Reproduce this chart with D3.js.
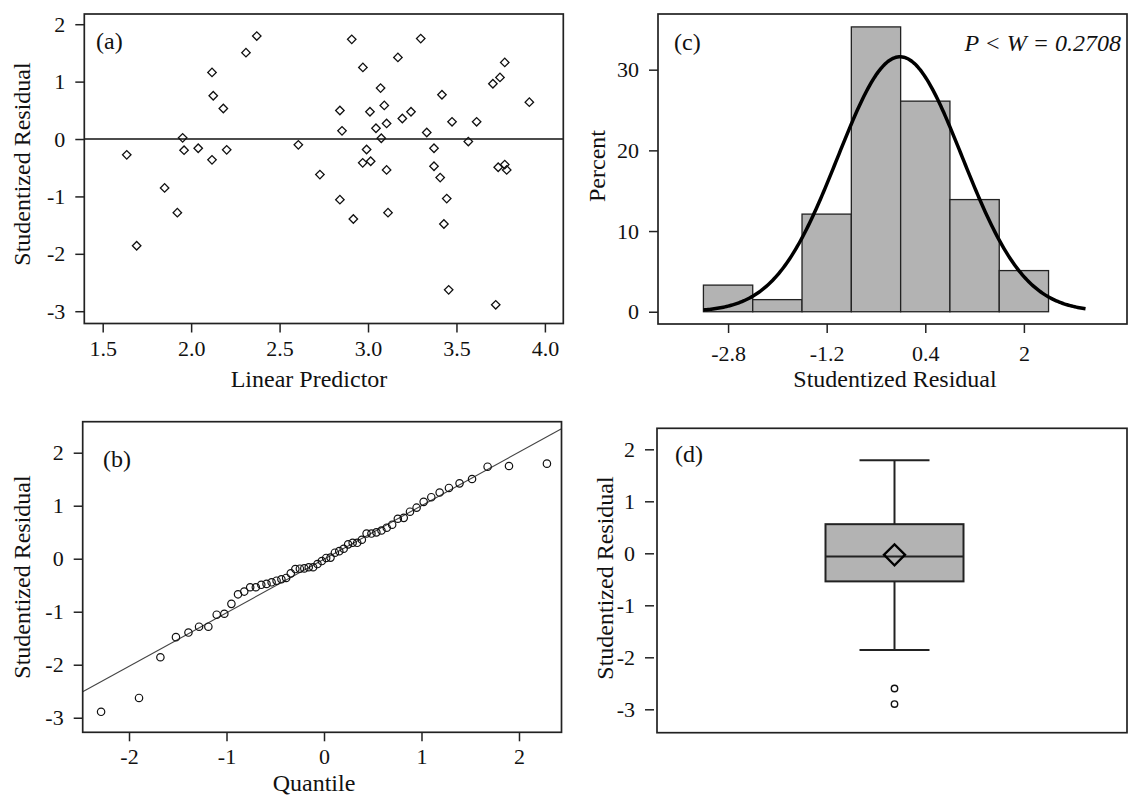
<!DOCTYPE html>
<html>
<head>
<meta charset="utf-8">
<script src="https://cdn.jsdelivr.net/npm/d3@7"></script>
<style>
body { margin: 0; background: #fff; }
text { font-family: "Liberation Serif", "Times New Roman", serif; fill: #111; }
</style>
</head>
<body>
<script>
var predictor = [1.636, 1.692, 1.850, 1.922, 1.952, 1.960, 2.040, 2.118, 2.125, 2.118, 2.182, 2.201, 2.310, 2.371,
	2.606, 2.728, 2.841, 2.853, 2.841, 2.917, 2.908, 2.971, 3.071, 3.011, 3.092, 3.045, 3.105, 3.075,
	3.169, 3.194, 3.243, 3.298, 3.332, 3.418, 3.475, 3.614, 3.567, 2.992, 2.970, 3.015, 3.105, 3.373,
	3.373, 3.408, 3.445, 3.113, 3.429, 3.456, 3.722, 3.773, 3.746, 3.706, 3.912, 3.736, 3.773, 3.784];
var residual = [-0.276, -1.859, -0.852, -1.283, 0.021, -0.195, -0.161, 1.161, 0.754, -0.363, 0.532, -0.188, 1.504, 1.794,
	-0.101, -0.620, 0.497, 0.143, -1.056, -1.393, 1.736, 1.248, 0.887, 0.475, 0.585, 0.188, 0.271, 0.014,
	1.422, 0.358, 0.475, 1.749, 0.113, 0.771, 0.300, 0.300, -0.044, -0.183, -0.415, -0.387, -0.538, -0.161,
	-0.475, -0.672, -1.038, -1.283, -1.480, -2.627, -2.888, 1.335, 1.073, 0.963, 0.642, -0.492, -0.445, -0.538];

// histogram (c)
var histMid = [-2.8, -2.0, -1.2, -0.4, 0.4, 1.2, 2.0];
var histPct = [3.3, 1.5, 12.1, 35.3, 26.1, 13.9, 5.1];
var binWidth = 0.8;
var fitMean = -0.01, fitSd = 1.01;
var curveFrom = -3.2, curveTo = 3.0;

// box plot (d): q1, median, q3, mean, low whisker, high whisker
var boxStats = [-0.54, -0.06, 0.56, -0.03, -1.86, 1.79];
var boxOutliers = [-2.60, -2.90];

var ticksA_x = [1.5, 2.0, 2.5, 3.0, 3.5, 4.0];
var ticksResid = [-3, -2, -1, 0, 1, 2];
var ticksB_x = [-2, -1, 0, 1, 2];
var ticksC_x = [-2.8, -1.2, 0.4, 2];
var ticksC_y = [0, 10, 20, 30];

var svg = d3.select("body").append("svg")
	.attr("width", 1130).attr("height", 797);

function hyph(f) {
	return function (d) { var s = f ? d3.format(f)(Math.abs(d)) : String(Math.abs(d)); return d < 0 ? "-" + s : s; };
}

function frame(x0, y0, x1, y1) {
	svg.append("rect")
		.attr("x", x0).attr("y", y0).attr("width", x1 - x0).attr("height", y1 - y0)
		.attr("fill", "none").attr("stroke", "#222").attr("stroke-width", 1.7);
}

function styleAxis(g) {
	g.select(".domain").remove();
	g.selectAll("line").attr("stroke", "#222").attr("stroke-width", 1.5);
	g.selectAll("text").style("font-size", "22px").attr("fill", "#111")
		.style("font-family", '"Liberation Serif", "Times New Roman", serif');
}

function leftAxis(scale, x, vals, fmt) {
	svg.append("g").attr("transform", "translate(" + x + ",0)")
		.call(d3.axisLeft(scale).tickValues(vals).tickSize(9).tickPadding(10).tickFormat(fmt))
		.call(styleAxis);
}

function bottomAxis(scale, y, vals, fmt, pad) {
	svg.append("g").attr("transform", "translate(0," + y + ")")
		.call(d3.axisBottom(scale).tickValues(vals).tickSize(9).tickPadding(pad).tickFormat(fmt))
		.call(styleAxis);
}

function label(txt, x, y, opt) {
	opt = opt || {};
	var t = svg.append("text").attr("x", x).attr("y", y).text(txt)
		.style("font-size", (opt.size || 24) + "px")
		.attr("text-anchor", opt.anchor || "start");
	if (opt.rotate) t.attr("transform", "rotate(-90," + x + "," + y + ")").attr("dominant-baseline", "central");
	if (opt.italic) t.style("font-style", "italic");
	return t;
}

// ---------- (a) residual vs linear predictor ----------
var xa = d3.scaleLinear().domain([1.396, 4.104]).range([84.3, 563.3]);
var ya = d3.scaleLinear().domain([-3.214, 2.178]).range([323.5, 14]);

svg.append("line")
	.attr("x1", xa.range()[0]).attr("x2", xa.range()[1])
	.attr("y1", ya(0)).attr("y2", ya(0))
	.attr("stroke", "#111").attr("stroke-width", 1.4);

svg.append("g").selectAll("path")
	.data(predictor)
	.enter()
	.append("path")
	.attr("d", d3.symbol(d3.symbolSquare, 36))
	.attr("transform", function (d, i) { return "translate(" + xa(d) + "," + ya(residual[i]) + ") rotate(45)"; })
	.attr("fill", "none").attr("stroke", "#111").attr("stroke-width", 1.3);

frame(84.3, 14, 563.3, 323.5);
leftAxis(ya, 84.3, ticksResid, hyph());
bottomAxis(xa, 323.5, ticksA_x, d3.format(".1f"), 8);
label("(a)", 96, 49);
label("Linear Predictor", 309, 387, { anchor: "middle" });
label("Studentized Residual", 22, 164, { anchor: "middle", rotate: true });

// ---------- (b) normal quantile plot ----------
function qnorm(p) {
	var a = [-3.969683028665376e+01, 2.209460984245205e+02, -2.759285104469687e+02, 1.383577518672690e+02, -3.066479806614716e+01, 2.506628277459239e+00];
	var b = [-5.447609879822406e+01, 1.615858368580409e+02, -1.556989798598866e+02, 6.680131188771972e+01, -1.328068155288572e+01];
	var c = [-7.784894002430293e-03, -3.223964580411365e-01, -2.400758277161838e+00, -2.549732539343734e+00, 4.374664141464968e+00, 2.938163982698783e+00];
	var d = [7.784695709041462e-03, 3.224671290700398e-01, 2.445134137142996e+00, 3.754408661907416e+00];
	var pl = 0.02425, q, r;
	if (p < pl) {
		q = Math.sqrt(-2 * Math.log(p));
		return (((((c[0] * q + c[1]) * q + c[2]) * q + c[3]) * q + c[4]) * q + c[5]) / ((((d[0] * q + d[1]) * q + d[2]) * q + d[3]) * q + 1);
	}
	if (p > 1 - pl) return -qnorm(1 - p);
	q = p - 0.5; r = q * q;
	return (((((a[0] * r + a[1]) * r + a[2]) * r + a[3]) * r + a[4]) * r + a[5]) * q / (((((b[0] * r + b[1]) * r + b[2]) * r + b[3]) * r + b[4]) * r + 1);
}

// Blom scores for the sorted residuals
var sorted = residual.slice().sort(d3.ascending);
var n = sorted.length;
var qq = sorted.map(function (v, i) { return [qnorm((i + 1 - 0.375) / (n + 0.25)), v]; });

var xb = d3.scaleLinear().domain([-2.475, 2.436]).range([82.7, 561.5]);
var yb = d3.scaleLinear().domain([-3.275, 2.585]).range([732.3, 421.7]);

svg.append("defs").append("clipPath").attr("id", "clipb")
	.append("rect").attr("x", 82.7).attr("y", 421.7).attr("width", 561.5 - 82.7).attr("height", 732.3 - 421.7);

svg.append("line")
	.attr("clip-path", "url(#clipb)")
	.attr("x1", xb(-2.475)).attr("y1", yb(fitMean + fitSd * -2.475))
	.attr("x2", xb(2.436)).attr("y2", yb(fitMean + fitSd * 2.436))
	.attr("stroke", "#444").attr("stroke-width", 1.1);

svg.append("g").selectAll("circle")
	.data(qq)
	.enter()
	.append("circle")
	.attr("cx", function (d) { return xb(d[0]); })
	.attr("cy", function (d) { return yb(d[1]); })
	.attr("r", 3.7)
	.attr("fill", "none").attr("stroke", "#111").attr("stroke-width", 1.2);

frame(82.7, 421.7, 561.5, 732.3);
leftAxis(yb, 82.7, ticksResid, hyph());
bottomAxis(xb, 732.3, ticksB_x, hyph(), 7);
label("(b)", 103, 467);
label("Quantile", 314, 791, { anchor: "middle" });
label("Studentized Residual", 22, 577, { anchor: "middle", rotate: true });

// ---------- (c) histogram ----------
var xc = d3.scaleLinear().domain([-3.937, 3.673]).range([658, 1127]);
var yc = d3.scaleLinear().domain([-1.52, 36.9]).range([324, 14]);

svg.append("g").selectAll("rect")
	.data(histMid)
	.enter()
	.append("rect")
	.attr("x", function (d) { return xc(d - binWidth / 2); })
	.attr("width", function (d) { return xc(d + binWidth / 2) - xc(d - binWidth / 2); })
	.attr("y", function (d, i) { return yc(histPct[i]); })
	.attr("height", function (d, i) { return yc(0) - yc(histPct[i]); })
	.attr("fill", "#b3b3b3").attr("stroke", "#222").attr("stroke-width", 1.3);

var curveX = d3.range(curveFrom, curveTo + 0.001, 0.025);
svg.append("path")
	.datum(curveX)
	.attr("d", d3.line()
		.x(function (d) { return xc(d); })
		.y(function (d) {
			var z = (d - fitMean) / fitSd;
			return yc(100 * binWidth * Math.exp(-z * z / 2) / (fitSd * Math.sqrt(2 * Math.PI)));
		}))
	.attr("fill", "none").attr("stroke", "#000").attr("stroke-width", 3.5);

frame(658, 14, 1127, 324);
leftAxis(yc, 658, ticksC_y, hyph());
bottomAxis(xc, 324, ticksC_x, hyph(), 12);
label("(c)", 674, 50);
label("P < W = 0.2708", 1121, 51, { anchor: "end", italic: true });
label("Studentized Residual", 895, 387, { anchor: "middle" });
label("Percent", 597, 166, { anchor: "middle", rotate: true });

// ---------- (d) box plot ----------
var xd = d3.scalePoint().domain(["resid"]).range([657, 1132]);
var yd = d3.scaleLinear().domain([-3.45, 2.404]).range([732.7, 428.3]);
var cx = xd("resid");
var bx = svg.append("g").attr("stroke", "#222").attr("stroke-width", 2);

bx.append("line").attr("x1", cx).attr("x2", cx).attr("y1", yd(boxStats[2])).attr("y2", yd(boxStats[5]));
bx.append("line").attr("x1", cx).attr("x2", cx).attr("y1", yd(boxStats[0])).attr("y2", yd(boxStats[4]));
bx.append("line").attr("x1", cx - 35).attr("x2", cx + 35).attr("y1", yd(boxStats[5])).attr("y2", yd(boxStats[5]));
bx.append("line").attr("x1", cx - 35).attr("x2", cx + 35).attr("y1", yd(boxStats[4])).attr("y2", yd(boxStats[4]));
bx.append("rect")
	.attr("x", cx - 69).attr("width", 138)
	.attr("y", yd(boxStats[2])).attr("height", yd(boxStats[0]) - yd(boxStats[2]))
	.attr("fill", "#b3b3b3");
bx.append("line").attr("x1", cx - 69).attr("x2", cx + 69).attr("y1", yd(boxStats[1])).attr("y2", yd(boxStats[1]));
bx.append("path")
	.attr("d", d3.symbol(d3.symbolSquare, 220))
	.attr("transform", "translate(" + cx + "," + yd(boxStats[3]) + ") rotate(45)")
	.attr("fill", "none").attr("stroke", "#000").attr("stroke-width", 2.4);

svg.append("g").selectAll("circle")
	.data(boxOutliers)
	.enter()
	.append("circle")
	.attr("cx", cx)
	.attr("cy", function (d) { return yd(d); })
	.attr("r", 3.2)
	.attr("fill", "none").attr("stroke", "#111").attr("stroke-width", 1.4);

frame(657, 428.3, 1127, 732.7);
leftAxis(yd, 654, ticksResid, hyph());
label("(d)", 675, 462);
label("Studentized Residual", 605, 578, { anchor: "middle", rotate: true });
</script>
</body>
</html>
